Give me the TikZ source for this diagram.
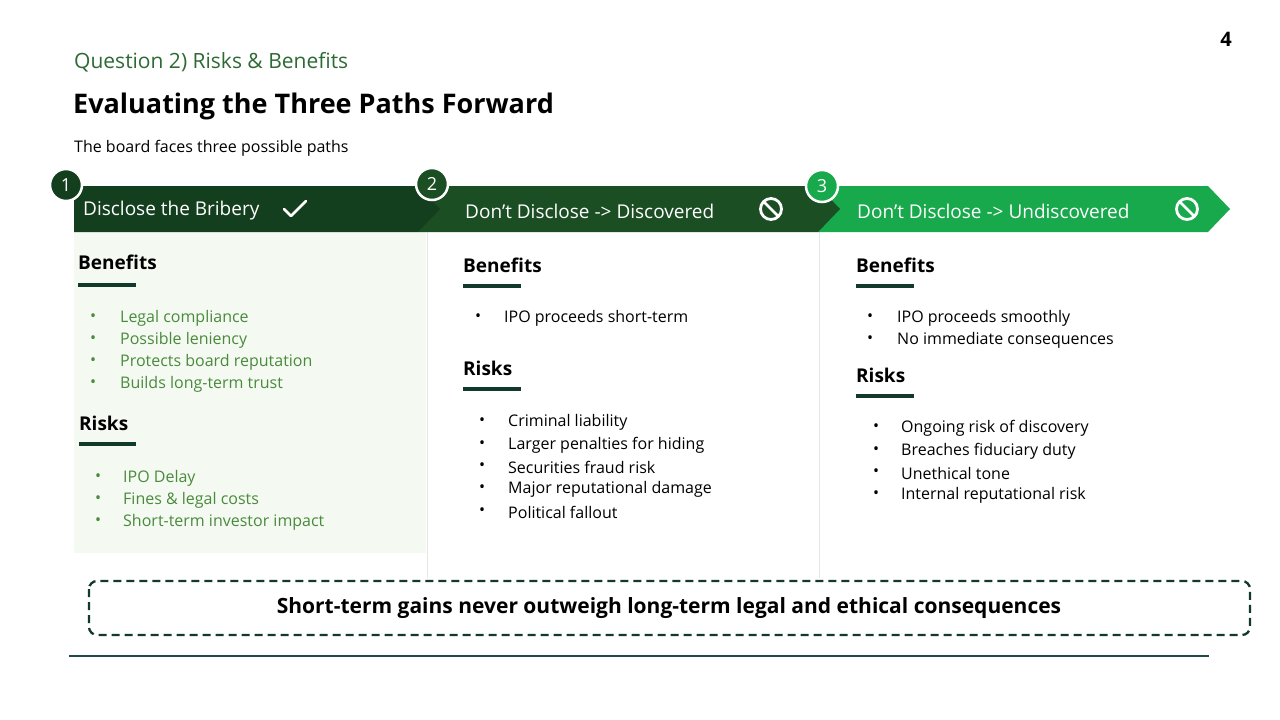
\documentclass[tikz,border=0pt]{standalone}
\usepackage{fontspec}
\setmainfont{Open Sans}
\definecolor{gA}{HTML}{143F1E}
\definecolor{gB}{HTML}{1B4E23}
\definecolor{gC}{HTML}{17A94B}
\definecolor{ttl}{HTML}{2E6B34}
\definecolor{bul}{HTML}{4A8A3C}
\definecolor{bar}{HTML}{123A2C}
\definecolor{bg}{HTML}{F4FAF2}
\definecolor{sep}{HTML}{E6E6E6}
\definecolor{rule}{HTML}{1E4A4A}
\begin{document}
\begin{tikzpicture}[x=1pt,y=-1pt,
  txt/.style={anchor=west,inner sep=0pt,font=\fontsize{16}{19}\selectfont},
  hd/.style={anchor=west,inner sep=0pt,font=\fontsize{19}{22}\selectfont\bfseries},
  htxt/.style={anchor=west,inner sep=0pt,text=white,font=\fontsize{19}{22}\selectfont},
  num/.style={circle,draw=white,line width=2.5pt,minimum size=32pt,inner sep=0pt,text=white,font=\fontsize{18}{20}\selectfont},
  ubar/.style={line width=4pt,draw=bar}]
\useasboundingbox (0,0) rectangle (1280,720);
\fill[white] (0,0) rectangle (1280,720);
% title area
\node[anchor=west,inner sep=0pt,text=ttl,font=\fontsize{21}{24}\selectfont] (q) at (74,62) {Question 2) Risks \& Benefits};
\node[anchor=west,inner sep=0pt,font=\fontsize{27}{30}\selectfont\bfseries] (t) at (73,106) {Evaluating the Three Paths Forward};
\node[anchor=west,inner sep=0pt,font=\fontsize{16}{19}\selectfont] (s) at (74,148) {The board faces three possible paths};
\node[inner sep=0pt,font=\fontsize{20}{22}\selectfont\bfseries] (pg) at (1226,39) {4};
% column 1 background and separators
\fill[bg] (74,232) rectangle (426,553);
\draw[sep,line width=1pt] (427,232) -- (427,578) (819,232) -- (819,578);
% chevrons
\fill[gC] (818,186) -- (1208,186) -- (1230,209) -- (1208,232) -- (818,232) -- cycle;
\fill[gB] (418,186) -- (818,186) -- (840,209) -- (818,232) -- (418,232) -- cycle;
\fill[gA] (74,186) -- (418,186) -- (440,209) -- (418,232) -- (74,232) -- cycle;
\node[num,fill=gA] (n1) at (66,185) {1};
\node[num,fill=gB] (n2) at (432,184) {2};
\node[num,fill=gC] (n3) at (822,186) {3};
\node[htxt] (h1) at (83,211) {Disclose the Bribery};
\draw[white,line width=2.8pt,line cap=round,line join=round] (284,209) -- (291,216) -- (306,201);
\node[htxt] (h2) at (465,211) {Don’t Disclose -> Discovered};
\node[htxt] (h3) at (857,211) {Don’t Disclose -> Undiscovered};
\foreach \cx in {771,1187}{
  \draw[white,line width=2.8pt] (\cx,209) circle (10.5);
  \draw[white,line width=2.8pt] (\cx-7.4,209-7.4) -- (\cx+7.4,209+7.4);
}
% column 1
\node[hd] (b1) at (78,262) {Benefits};
\draw[ubar] (78,285) -- (136,285);
\foreach \y/\t in {318/Legal compliance,340/Possible leniency,362/Protects board reputation,384/Builds long-term trust}{
  \node[txt,text=bul] at (90,\y) {•}; \node[txt,text=bul] at (120,\y) {\t};}
\node[hd] (r1) at (79,423) {Risks};
\draw[ubar] (79,444) -- (136,444);
\foreach \y/\t in {478/IPO Delay / Collapse,500/Fines \& legal costs,522/Short-term investor impact}{
  \node[txt,text=bul] at (95,\y) {•}; \node[txt,text=bul] at (123,\y) {\t};}
% column 2
\node[hd] (b2) at (463,265) {Benefits};
\draw[ubar] (463,286) -- (521,286);
\node[txt] at (475,318) {•}; \node[txt] at (504,318) {IPO proceeds short-term};
\node[hd] (r2) at (463,368) {Risks};
\draw[ubar] (463,389) -- (521,389);
\foreach \y/\t in {422/Criminal liability,445/Larger penalties for hiding,467/Securities fraud risk,489/Major reputational damage,512/Political fallout}{
  \node[txt] at (479,\y) {•}; \node[txt] at (508,\y) {\t};}
% column 3
\node[hd] (b3) at (856,265) {Benefits};
\draw[ubar] (856,286) -- (914,286);
\foreach \y/\t in {318/IPO proceeds smoothly,340/No immediate consequences}{
  \node[txt] at (867,\y) {•}; \node[txt] at (897,\y) {\t};}
\node[hd] (r3) at (856,375) {Risks};
\draw[ubar] (856,396) -- (914,396);
\foreach \y/\t in {428/Ongoing risk of discovery,451/Breaches fiduciary duty,473/Unethical tone,495/Internal reputational risk}{
  \node[txt] at (873,\y) {•}; \node[txt] at (901,\y) {\t};}
% dashed box
\draw[bar,line width=2.3pt,dash pattern=on 8pt off 5pt,rounded corners=8pt] (89,581) rectangle (1250,635);
\node[inner sep=0pt,font=\fontsize{21}{24}\selectfont\bfseries] (msg) at (669,608) {Short-term gains never outweigh long-term legal and ethical consequences};
\draw[rule,line width=1.5pt] (69,656) -- (1209,656);
\end{tikzpicture}
\end{document}
